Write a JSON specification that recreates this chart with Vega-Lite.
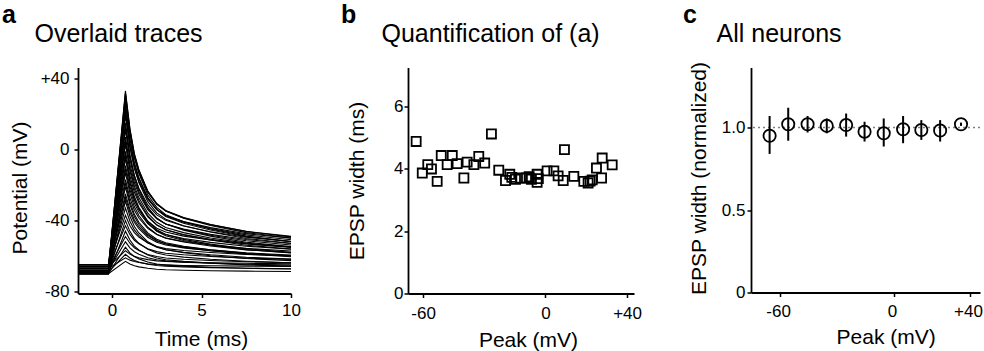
{
"$schema": "https://vega.github.io/schema/vega-lite/v6.json",
"padding": {"left": 2, "top": 2.5, "right": 0, "bottom": 0},
"spacing": 117,
"bounds": "flush",
"config": {
 "view": {"stroke": null},
 "font": "Liberation Sans",
 "axis": {"domainColor": "black", "domainWidth": 1.8, "tickColor": "black", "tickWidth": 1.5, "tickSize": 4, "labelColor": "black", "labelFontSize": 17, "labelFont": "Liberation Sans", "titleFont": "Liberation Sans", "titleFontSize": 21, "titleFontWeight": "normal", "titleColor": "black", "grid": false, "labelFlush": false, "labelOverlap": false},
 "title": {"anchor": "start", "frame": "group", "fontSize": 25, "fontWeight": "bold", "font": "Liberation Sans", "color": "black", "offset": -6.5}
},
"datasets": {
"tr": [
{"k":1,"t":-1.9,"v":-68},{"k":1,"t":-0.2,"v":-68},{"k":1,"t":0.75,"v":33},{"k":1,"t":1,"v":11.8},{"k":1,"t":1.25,"v":-2.4},{"k":1,"t":1.5,"v":-11.4},{"k":1,"t":2,"v":-23.6},{"k":1,"t":2.5,"v":-30.6},{"k":1,"t":3,"v":-34.7},{"k":1,"t":4,"v":-38.7},{"k":1,"t":5.5,"v":-42.8},{"k":1,"t":7.5,"v":-46.8},{"k":1,"t":10,"v":-49.8},
{"k":2,"t":-1.9,"v":-70},{"k":2,"t":-0.2,"v":-70},{"k":2,"t":0.75,"v":31},{"k":2,"t":1,"v":9.8},{"k":2,"t":1.25,"v":-4.4},{"k":2,"t":1.5,"v":-13.4},{"k":2,"t":2,"v":-25.6},{"k":2,"t":2.5,"v":-32.6},{"k":2,"t":3,"v":-36.7},{"k":2,"t":4,"v":-40.7},{"k":2,"t":5.5,"v":-44.8},{"k":2,"t":7.5,"v":-48.8},{"k":2,"t":10,"v":-51.8},
{"k":3,"t":-1.9,"v":-66},{"k":3,"t":-0.2,"v":-66},{"k":3,"t":0.75,"v":29},{"k":3,"t":1,"v":9.1},{"k":3,"t":1.25,"v":-4.3},{"k":3,"t":1.5,"v":-12.8},{"k":3,"t":2,"v":-24.2},{"k":3,"t":2.5,"v":-30.9},{"k":3,"t":3,"v":-34.7},{"k":3,"t":4,"v":-38.5},{"k":3,"t":5.5,"v":-42.3},{"k":3,"t":7.5,"v":-46.1},{"k":3,"t":10,"v":-48.9},
{"k":4,"t":-1.9,"v":-69},{"k":4,"t":-0.2,"v":-69},{"k":4,"t":0.75,"v":26},{"k":4,"t":1,"v":6.1},{"k":4,"t":1.25,"v":-7.3},{"k":4,"t":1.5,"v":-15.8},{"k":4,"t":2,"v":-27.2},{"k":4,"t":2.5,"v":-33.9},{"k":4,"t":3,"v":-37.7},{"k":4,"t":4,"v":-41.5},{"k":4,"t":5.5,"v":-45.3},{"k":4,"t":7.5,"v":-49.1},{"k":4,"t":10,"v":-51.9},
{"k":5,"t":-1.9,"v":-67},{"k":5,"t":-0.2,"v":-67},{"k":5,"t":0.75,"v":23},{"k":5,"t":1,"v":4.1},{"k":5,"t":1.25,"v":-8.5},{"k":5,"t":1.5,"v":-16.6},{"k":5,"t":2,"v":-27.4},{"k":5,"t":2.5,"v":-33.7},{"k":5,"t":3,"v":-37.3},{"k":5,"t":4,"v":-40.9},{"k":5,"t":5.5,"v":-44.5},{"k":5,"t":7.5,"v":-48.1},{"k":5,"t":10,"v":-50.8},
{"k":6,"t":-1.9,"v":-65},{"k":6,"t":-0.2,"v":-65},{"k":6,"t":0.75,"v":19},{"k":6,"t":1,"v":1.4},{"k":6,"t":1.25,"v":-10.4},{"k":6,"t":1.5,"v":-18},{"k":6,"t":2,"v":-28},{"k":6,"t":2.5,"v":-33.9},{"k":6,"t":3,"v":-37.3},{"k":6,"t":4,"v":-40.6},{"k":6,"t":5.5,"v":-44},{"k":6,"t":7.5,"v":-47.4},{"k":6,"t":10,"v":-49.9},
{"k":7,"t":-1.9,"v":-70},{"k":7,"t":-0.2,"v":-70},{"k":7,"t":0.75,"v":15},{"k":7,"t":1,"v":-2.9},{"k":7,"t":1.25,"v":-14.8},{"k":7,"t":1.5,"v":-22.4},{"k":7,"t":2,"v":-32.6},{"k":7,"t":2.5,"v":-38.6},{"k":7,"t":3,"v":-42},{"k":7,"t":4,"v":-45.4},{"k":7,"t":5.5,"v":-48.8},{"k":7,"t":7.5,"v":-52.2},{"k":7,"t":10,"v":-54.7},
{"k":8,"t":-1.9,"v":-68},{"k":8,"t":-0.2,"v":-68},{"k":8,"t":0.75,"v":11},{"k":8,"t":1,"v":-5.6},{"k":8,"t":1.25,"v":-16.7},{"k":8,"t":1.5,"v":-23.8},{"k":8,"t":2,"v":-33.2},{"k":8,"t":2.5,"v":-38.8},{"k":8,"t":3,"v":-41.9},{"k":8,"t":4,"v":-45.1},{"k":8,"t":5.5,"v":-48.3},{"k":8,"t":7.5,"v":-51.4},{"k":8,"t":10,"v":-53.8},
{"k":9,"t":-1.9,"v":-66},{"k":9,"t":-0.2,"v":-66},{"k":9,"t":0.75,"v":7},{"k":9,"t":1,"v":-8.3},{"k":9,"t":1.25,"v":-18.6},{"k":9,"t":1.5,"v":-25.1},{"k":9,"t":2,"v":-33.9},{"k":9,"t":2.5,"v":-39},{"k":9,"t":3,"v":-41.9},{"k":9,"t":4,"v":-44.8},{"k":9,"t":5.5,"v":-47.8},{"k":9,"t":7.5,"v":-50.7},{"k":9,"t":10,"v":-52.9},
{"k":10,"t":-1.9,"v":-69},{"k":10,"t":-0.2,"v":-69},{"k":10,"t":0.75,"v":3},{"k":10,"t":1,"v":-12.1},{"k":10,"t":1.25,"v":-22.2},{"k":10,"t":1.5,"v":-28.7},{"k":10,"t":2,"v":-37.3},{"k":10,"t":2.5,"v":-42.4},{"k":10,"t":3,"v":-45.2},{"k":10,"t":4,"v":-48.1},{"k":10,"t":5.5,"v":-51},{"k":10,"t":7.5,"v":-53.9},{"k":10,"t":10,"v":-56},
{"k":11,"t":-1.9,"v":-67},{"k":11,"t":-0.2,"v":-67},{"k":11,"t":0.75,"v":-1},{"k":11,"t":1,"v":-14.9},{"k":11,"t":1.25,"v":-24.1},{"k":11,"t":1.5,"v":-30},{"k":11,"t":2,"v":-38},{"k":11,"t":2.5,"v":-42.6},{"k":11,"t":3,"v":-45.2},{"k":11,"t":4,"v":-47.9},{"k":11,"t":5.5,"v":-50.5},{"k":11,"t":7.5,"v":-53.1},{"k":11,"t":10,"v":-55.1},
{"k":12,"t":-1.9,"v":-70},{"k":12,"t":-0.2,"v":-70},{"k":12,"t":0.75,"v":-5},{"k":12,"t":1,"v":-18.7},{"k":12,"t":1.25,"v":-27.8},{"k":12,"t":1.5,"v":-33.6},{"k":12,"t":2,"v":-41.4},{"k":12,"t":2.5,"v":-46},{"k":12,"t":3,"v":-48.6},{"k":12,"t":4,"v":-51.2},{"k":12,"t":5.5,"v":-53.8},{"k":12,"t":7.5,"v":-56.4},{"k":12,"t":10,"v":-58.3},
{"k":13,"t":-1.9,"v":-65},{"k":13,"t":-0.2,"v":-65},{"k":13,"t":0.75,"v":-9},{"k":13,"t":1,"v":-20.8},{"k":13,"t":1.25,"v":-28.6},{"k":13,"t":1.5,"v":-33.6},{"k":13,"t":2,"v":-40.4},{"k":13,"t":2.5,"v":-44.3},{"k":13,"t":3,"v":-46.5},{"k":13,"t":4,"v":-48.8},{"k":13,"t":5.5,"v":-51},{"k":13,"t":7.5,"v":-53.2},{"k":13,"t":10,"v":-54.9},
{"k":14,"t":-1.9,"v":-68},{"k":14,"t":-0.2,"v":-68},{"k":14,"t":0.75,"v":-13},{"k":14,"t":1,"v":-24.6},{"k":14,"t":1.25,"v":-32.3},{"k":14,"t":1.5,"v":-37.2},{"k":14,"t":2,"v":-43.8},{"k":14,"t":2.5,"v":-47.7},{"k":14,"t":3,"v":-49.9},{"k":14,"t":4,"v":-52.1},{"k":14,"t":5.5,"v":-54.3},{"k":14,"t":7.5,"v":-56.5},{"k":14,"t":10,"v":-58.1},
{"k":15,"t":-1.9,"v":-66},{"k":15,"t":-0.2,"v":-66},{"k":15,"t":0.75,"v":-17},{"k":15,"t":1,"v":-27.3},{"k":15,"t":1.25,"v":-34.2},{"k":15,"t":1.5,"v":-38.6},{"k":15,"t":2,"v":-44.4},{"k":15,"t":2.5,"v":-47.9},{"k":15,"t":3,"v":-49.8},{"k":15,"t":4,"v":-51.8},{"k":15,"t":5.5,"v":-53.8},{"k":15,"t":7.5,"v":-55.7},{"k":15,"t":10,"v":-57.2},
{"k":16,"t":-1.9,"v":-69},{"k":16,"t":-0.2,"v":-69},{"k":16,"t":0.75,"v":-21},{"k":16,"t":1,"v":-31.1},{"k":16,"t":1.25,"v":-37.8},{"k":16,"t":1.5,"v":-42.1},{"k":16,"t":2,"v":-47.9},{"k":16,"t":2.5,"v":-51.2},{"k":16,"t":3,"v":-53.2},{"k":16,"t":4,"v":-55.1},{"k":16,"t":5.5,"v":-57},{"k":16,"t":7.5,"v":-58.9},{"k":16,"t":10,"v":-60.4},
{"k":17,"t":-1.9,"v":-67},{"k":17,"t":-0.2,"v":-67},{"k":17,"t":0.75,"v":-25},{"k":17,"t":1,"v":-33.8},{"k":17,"t":1.25,"v":-39.7},{"k":17,"t":1.5,"v":-43.5},{"k":17,"t":2,"v":-48.5},{"k":17,"t":2.5,"v":-51.5},{"k":17,"t":3,"v":-53.1},{"k":17,"t":4,"v":-54.8},{"k":17,"t":5.5,"v":-56.5},{"k":17,"t":7.5,"v":-58.2},{"k":17,"t":10,"v":-59.4},
{"k":18,"t":-1.9,"v":-70},{"k":18,"t":-0.2,"v":-70},{"k":18,"t":0.75,"v":-29},{"k":18,"t":1,"v":-37.6},{"k":18,"t":1.25,"v":-43.4},{"k":18,"t":1.5,"v":-47},{"k":18,"t":2,"v":-52},{"k":18,"t":2.5,"v":-54.8},{"k":18,"t":3,"v":-56.5},{"k":18,"t":4,"v":-58.1},{"k":18,"t":5.5,"v":-59.8},{"k":18,"t":7.5,"v":-61.4},{"k":18,"t":10,"v":-62.6},
{"k":19,"t":-1.9,"v":-68},{"k":19,"t":-0.2,"v":-68},{"k":19,"t":0.75,"v":-33},{"k":19,"t":1,"v":-40.4},{"k":19,"t":1.25,"v":-45.3},{"k":19,"t":1.5,"v":-48.4},{"k":19,"t":2,"v":-52.6},{"k":19,"t":2.5,"v":-55.1},{"k":19,"t":3,"v":-56.5},{"k":19,"t":4,"v":-57.9},{"k":19,"t":5.5,"v":-59.3},{"k":19,"t":7.5,"v":-60.7},{"k":19,"t":10,"v":-61.7},
{"k":20,"t":-1.9,"v":-65},{"k":20,"t":-0.2,"v":-65},{"k":20,"t":0.75,"v":-37},{"k":20,"t":1,"v":-42.9},{"k":20,"t":1.25,"v":-46.8},{"k":20,"t":1.5,"v":-49.3},{"k":20,"t":2,"v":-52.7},{"k":20,"t":2.5,"v":-54.6},{"k":20,"t":3,"v":-55.8},{"k":20,"t":4,"v":-56.9},{"k":20,"t":5.5,"v":-58},{"k":20,"t":7.5,"v":-59.1},{"k":20,"t":10,"v":-60},
{"k":21,"t":-1.9,"v":-69},{"k":21,"t":-0.2,"v":-69},{"k":21,"t":0.75,"v":-40},{"k":21,"t":1,"v":-46.1},{"k":21,"t":1.25,"v":-50.2},{"k":21,"t":1.5,"v":-52.8},{"k":21,"t":2,"v":-56.2},{"k":21,"t":2.5,"v":-58.3},{"k":21,"t":3,"v":-59.4},{"k":21,"t":4,"v":-60.6},{"k":21,"t":5.5,"v":-61.8},{"k":21,"t":7.5,"v":-62.9},{"k":21,"t":10,"v":-63.8},
{"k":22,"t":-1.9,"v":-66},{"k":22,"t":-0.2,"v":-66},{"k":22,"t":0.75,"v":-43},{"k":22,"t":1,"v":-47.8},{"k":22,"t":1.25,"v":-51.1},{"k":22,"t":1.5,"v":-53.1},{"k":22,"t":2,"v":-55.9},{"k":22,"t":2.5,"v":-57.5},{"k":22,"t":3,"v":-58.4},{"k":22,"t":4,"v":-59.3},{"k":22,"t":5.5,"v":-60.3},{"k":22,"t":7.5,"v":-61.2},{"k":22,"t":10,"v":-61.9},
{"k":23,"t":-1.9,"v":-70},{"k":23,"t":-0.2,"v":-70},{"k":23,"t":0.75,"v":-46},{"k":23,"t":1,"v":-51},{"k":23,"t":1.25,"v":-54.4},{"k":23,"t":1.5,"v":-56.6},{"k":23,"t":2,"v":-59.4},{"k":23,"t":2.5,"v":-61.1},{"k":23,"t":3,"v":-62.1},{"k":23,"t":4,"v":-63},{"k":23,"t":5.5,"v":-64},{"k":23,"t":7.5,"v":-65},{"k":23,"t":10,"v":-65.7},
{"k":24,"t":-1.9,"v":-67},{"k":24,"t":-0.2,"v":-67},{"k":24,"t":0.75,"v":-49},{"k":24,"t":1,"v":-52.8},{"k":24,"t":1.25,"v":-55.3},{"k":24,"t":1.5,"v":-56.9},{"k":24,"t":2,"v":-59.1},{"k":24,"t":2.5,"v":-60.3},{"k":24,"t":3,"v":-61.1},{"k":24,"t":4,"v":-61.8},{"k":24,"t":5.5,"v":-62.5},{"k":24,"t":7.5,"v":-63.2},{"k":24,"t":10,"v":-63.8},
{"k":25,"t":-1.9,"v":-68},{"k":25,"t":-0.2,"v":-68},{"k":25,"t":0.75,"v":-52},{"k":25,"t":1,"v":-55.4},{"k":25,"t":1.25,"v":-57.6},{"k":25,"t":1.5,"v":-59},{"k":25,"t":2,"v":-61},{"k":25,"t":2.5,"v":-62.1},{"k":25,"t":3,"v":-62.7},{"k":25,"t":4,"v":-63.4},{"k":25,"t":5.5,"v":-64},{"k":25,"t":7.5,"v":-64.6},{"k":25,"t":10,"v":-65.1},
{"k":26,"t":-1.9,"v":-70},{"k":26,"t":-0.2,"v":-70},{"k":26,"t":0.75,"v":-55},{"k":26,"t":1,"v":-58.2},{"k":26,"t":1.25,"v":-60.3},{"k":26,"t":1.5,"v":-61.6},{"k":26,"t":2,"v":-63.4},{"k":26,"t":2.5,"v":-64.5},{"k":26,"t":3,"v":-65.1},{"k":26,"t":4,"v":-65.7},{"k":26,"t":5.5,"v":-66.3},{"k":26,"t":7.5,"v":-66.9},{"k":26,"t":10,"v":-67.3},
{"k":27,"t":-1.9,"v":-66},{"k":27,"t":-0.2,"v":-66},{"k":27,"t":0.75,"v":-57},{"k":27,"t":1,"v":-58.9},{"k":27,"t":1.25,"v":-60.2},{"k":27,"t":1.5,"v":-61},{"k":27,"t":2,"v":-62},{"k":27,"t":2.5,"v":-62.7},{"k":27,"t":3,"v":-63},{"k":27,"t":4,"v":-63.4},{"k":27,"t":5.5,"v":-63.8},{"k":27,"t":7.5,"v":-64.1},{"k":27,"t":10,"v":-64.4},
{"k":28,"t":-1.9,"v":-69},{"k":28,"t":-0.2,"v":-69},{"k":28,"t":0.75,"v":-59},{"k":28,"t":1,"v":-61.1},{"k":28,"t":1.25,"v":-62.5},{"k":28,"t":1.5,"v":-63.4},{"k":28,"t":2,"v":-64.6},{"k":28,"t":2.5,"v":-65.3},{"k":28,"t":3,"v":-65.7},{"k":28,"t":4,"v":-66.1},{"k":28,"t":5.5,"v":-66.5},{"k":28,"t":7.5,"v":-66.9},{"k":28,"t":10,"v":-67.2},
{"k":29,"t":-1.9,"v":-67},{"k":29,"t":-0.2,"v":-67},{"k":29,"t":0.75,"v":-61},{"k":29,"t":1,"v":-62.3},{"k":29,"t":1.25,"v":-63.1},{"k":29,"t":1.5,"v":-63.6},{"k":29,"t":2,"v":-64.4},{"k":29,"t":2.5,"v":-64.8},{"k":29,"t":3,"v":-65},{"k":29,"t":4,"v":-65.3},{"k":29,"t":5.5,"v":-65.5},{"k":29,"t":7.5,"v":-65.7},{"k":29,"t":10,"v":-65.9},
{"k":30,"t":-1.9,"v":-70},{"k":30,"t":-0.2,"v":-70},{"k":30,"t":0.75,"v":-63},{"k":30,"t":1,"v":-64.5},{"k":30,"t":1.25,"v":-65.5},{"k":30,"t":1.5,"v":-66.1},{"k":30,"t":2,"v":-66.9},{"k":30,"t":2.5,"v":-67.4},{"k":30,"t":3,"v":-67.7},{"k":30,"t":4,"v":-68},{"k":30,"t":5.5,"v":-68.3},{"k":30,"t":7.5,"v":-68.5},{"k":30,"t":10,"v":-68.7},
{"k":31,"t":-1.9,"v":-67},{"k":31,"t":-0.2,"v":-67},{"k":31,"t":0.75,"v":32},{"k":31,"t":1,"v":11.2},{"k":31,"t":1.25,"v":-2.6},{"k":31,"t":1.5,"v":-11.6},{"k":31,"t":2,"v":-23.4},{"k":31,"t":2.5,"v":-30.4},{"k":31,"t":3,"v":-34.3},{"k":31,"t":4,"v":-38.3},{"k":31,"t":5.5,"v":-42.3},{"k":31,"t":7.5,"v":-46.2},{"k":31,"t":10,"v":-49.2},
{"k":32,"t":-1.9,"v":-69},{"k":32,"t":-0.2,"v":-69},{"k":32,"t":0.75,"v":21},{"k":32,"t":1,"v":2.1},{"k":32,"t":1.25,"v":-10.5},{"k":32,"t":1.5,"v":-18.6},{"k":32,"t":2,"v":-29.4},{"k":32,"t":2.5,"v":-35.7},{"k":32,"t":3,"v":-39.3},{"k":32,"t":4,"v":-42.9},{"k":32,"t":5.5,"v":-46.5},{"k":32,"t":7.5,"v":-50.1},{"k":32,"t":10,"v":-52.8},
{"k":33,"t":-1.9,"v":-66},{"k":33,"t":-0.2,"v":-66},{"k":33,"t":0.75,"v":13},{"k":33,"t":1,"v":-3.6},{"k":33,"t":1.25,"v":-14.7},{"k":33,"t":1.5,"v":-21.8},{"k":33,"t":2,"v":-31.2},{"k":33,"t":2.5,"v":-36.8},{"k":33,"t":3,"v":-39.9},{"k":33,"t":4,"v":-43.1},{"k":33,"t":5.5,"v":-46.3},{"k":33,"t":7.5,"v":-49.4},{"k":33,"t":10,"v":-51.8},
{"k":34,"t":-1.9,"v":-68},{"k":34,"t":-0.2,"v":-68},{"k":34,"t":0.75,"v":5},{"k":34,"t":1,"v":-10.3},{"k":34,"t":1.25,"v":-20.6},{"k":34,"t":1.5,"v":-27.1},{"k":34,"t":2,"v":-35.9},{"k":34,"t":2.5,"v":-41},{"k":34,"t":3,"v":-43.9},{"k":34,"t":4,"v":-46.8},{"k":34,"t":5.5,"v":-49.8},{"k":34,"t":7.5,"v":-52.7},{"k":34,"t":10,"v":-54.9},
{"k":35,"t":-1.9,"v":-70},{"k":35,"t":-0.2,"v":-70},{"k":35,"t":0.75,"v":-3},{"k":35,"t":1,"v":-17.1},{"k":35,"t":1.25,"v":-26.5},{"k":35,"t":1.5,"v":-32.5},{"k":35,"t":2,"v":-40.5},{"k":35,"t":2.5,"v":-45.2},{"k":35,"t":3,"v":-47.9},{"k":35,"t":4,"v":-50.6},{"k":35,"t":5.5,"v":-53.3},{"k":35,"t":7.5,"v":-55.9},{"k":35,"t":10,"v":-57.9},
{"k":36,"t":-1.9,"v":-66},{"k":36,"t":-0.2,"v":-66},{"k":36,"t":0.75,"v":-11},{"k":36,"t":1,"v":-22.6},{"k":36,"t":1.25,"v":-30.3},{"k":36,"t":1.5,"v":-35.2},{"k":36,"t":2,"v":-41.8},{"k":36,"t":2.5,"v":-45.7},{"k":36,"t":3,"v":-47.9},{"k":36,"t":4,"v":-50.1},{"k":36,"t":5.5,"v":-52.3},{"k":36,"t":7.5,"v":-54.5},{"k":36,"t":10,"v":-56.1},
{"k":37,"t":-1.9,"v":-69},{"k":37,"t":-0.2,"v":-69},{"k":37,"t":0.75,"v":-19},{"k":37,"t":1,"v":-29.5},{"k":37,"t":1.25,"v":-36.5},{"k":37,"t":1.5,"v":-41},{"k":37,"t":2,"v":-47},{"k":37,"t":2.5,"v":-50.5},{"k":37,"t":3,"v":-52.5},{"k":37,"t":4,"v":-54.5},{"k":37,"t":5.5,"v":-56.5},{"k":37,"t":7.5,"v":-58.5},{"k":37,"t":10,"v":-60},
{"k":38,"t":-1.9,"v":-67},{"k":38,"t":-0.2,"v":-67},{"k":38,"t":0.75,"v":-27},{"k":38,"t":1,"v":-35.4},{"k":38,"t":1.25,"v":-41},{"k":38,"t":1.5,"v":-44.6},{"k":38,"t":2,"v":-49.4},{"k":38,"t":2.5,"v":-52.2},{"k":38,"t":3,"v":-53.8},{"k":38,"t":4,"v":-55.4},{"k":38,"t":5.5,"v":-57},{"k":38,"t":7.5,"v":-58.6},{"k":38,"t":10,"v":-59.8}
],
"pts": [
{"peak":-63.4,"w":4.87},{"peak":-60.4,"w":3.86},{"peak":-57.7,"w":4.13},{"peak":-55.9,"w":3.99},{"peak":-53.1,"w":3.59},{"peak":-51.1,"w":4.42},{"peak":-48.2,"w":4.13},{"peak":-45.7,"w":4.42},{"peak":-43.3,"w":4.16},{"peak":-40.0,"w":3.7},{"peak":-38.4,"w":4.21},{"peak":-35.1,"w":4.13},{"peak":-32.7,"w":4.39},{"peak":-29.8,"w":4.18},{"peak":-26.5,"w":5.11},{"peak":-22.9,"w":3.95},{"peak":-19.6,"w":3.62},{"peak":-17.5,"w":3.82},{"peak":-16.5,"w":3.72},{"peak":-14.7,"w":3.66},{"peak":-12.3,"w":3.7},{"peak":-9.3,"w":3.7},{"peak":-8.0,"w":3.74},{"peak":-6.9,"w":3.66},{"peak":-4.1,"w":3.82},{"peak":-4.1,"w":3.56},{"peak":-3.5,"w":3.68},{"peak":0.8,"w":3.93},{"peak":4.1,"w":3.93},{"peak":6.2,"w":3.77},{"peak":8.7,"w":3.62},{"peak":9.3,"w":4.61},{"peak":13.9,"w":3.75},{"peak":18.8,"w":3.59},{"peak":20.9,"w":3.54},{"peak":21.9,"w":3.6},{"peak":22.9,"w":3.64},{"peak":25.0,"w":4.02},{"peak":27.5,"w":3.7},{"peak":27.8,"w":4.34},{"peak":32.7,"w":4.12}
],
"avg": [
{"peak":-65.5,"m":0.95,"lo":0.84,"hi":1.07},{"peak":-55.7,"m":1.02,"lo":0.92,"hi":1.12},{"peak":-45.5,"m":1.02,"lo":0.97,"hi":1.07},{"peak":-35.4,"m":1.01,"lo":0.965,"hi":1.055},{"peak":-25.2,"m":1.015,"lo":0.945,"hi":1.085},{"peak":-15.5,"m":0.975,"lo":0.915,"hi":1.035},{"peak":-5.4,"m":0.965,"lo":0.885,"hi":1.055},{"peak":4.8,"m":0.99,"lo":0.905,"hi":1.07},{"peak":14.4,"m":0.985,"lo":0.925,"hi":1.045},{"peak":24.3,"m":0.982,"lo":0.915,"hi":1.045},{"peak":35.3,"m":1.02,"lo":1.01,"hi":1.03}
]
},
"hconcat": [
{
 "width": 213, "height": 226,
 "title": {"text": "a", "dx": -76},
 "resolve": {"scale": {"x": "independent"}, "axis": {"x": "independent"}},
 "layer": [
  {
   "data": {"name": "tr"},
   "mark": {"type": "line", "color": "black", "strokeWidth": 1.1},
   "encoding": {
    "x": {"field": "t", "type": "quantitative", "scale": {"domain": [-1.9, 10], "nice": false, "zero": false}, "axis": {"values": [0, 5, 10], "title": "Time (ms)", "titleX": 123, "labelPadding": 5, "titlePadding": 10}},
    "y": {"field": "v", "type": "quantitative", "scale": {"domain": [-81.1, 46.2], "nice": false, "zero": false}, "axis": {"values": [-80, -40, 0, 40], "labelExpr": "datum.value > 0 ? '+' + datum.value : '' + datum.value", "title": "Potential (mV)", "titleY": 120, "labelPadding": 5, "titlePadding": 9.5}},
    "detail": {"field": "k", "type": "nominal"}
   }
  },
  {
   "data": {"values": []},
   "mark": {"type": "point", "opacity": 0},
   "encoding": {
    "x": {"field": "t", "type": "quantitative", "scale": {"domain": [-1.9, 10], "nice": false, "zero": false}, "axis": {"orient": "top", "domain": false, "ticks": false, "labels": false, "title": "Overlaid traces", "titleFontSize": 25, "titleX": -44, "titleY": -26.5, "titleAlign": "left", "titleBaseline": "alphabetic", "titleAngle": 0}}
   }
  }
 ]
},
{
 "width": 226, "height": 226,
 "title": {"text": "b", "dx": -67},
 "resolve": {"scale": {"x": "independent"}, "axis": {"x": "independent"}},
 "layer": [
  {
   "data": {"name": "pts"},
   "mark": {"type": "point", "shape": "square", "filled": false, "color": "black", "strokeWidth": 1.8, "size": 82, "opacity": 1},
   "encoding": {
    "x": {"field": "peak", "type": "quantitative", "scale": {"domain": [-67.4, 43.4], "nice": false, "zero": false}, "axis": {"values": [-60, 0, 40], "labelExpr": "datum.value > 0 ? '+' + datum.value : '' + datum.value", "title": "Peak (mV)", "titleX": 120, "labelPadding": 7.5, "titlePadding": 8}},
    "y": {"field": "w", "type": "quantitative", "scale": {"domain": [0, 7.24], "nice": false, "zero": false}, "axis": {"values": [0, 2, 4, 6], "title": "EPSP width (ms)", "titleY": 113, "labelPadding": 1, "titlePadding": 25.8}}
   }
  },
  {
   "data": {"values": []},
   "mark": {"type": "point", "opacity": 0},
   "encoding": {
    "x": {"field": "peak", "type": "quantitative", "scale": {"domain": [-67.4, 43.4], "nice": false, "zero": false}, "axis": {"orient": "top", "domain": false, "ticks": false, "labels": false, "title": "Quantification of (a)", "titleFontSize": 25, "titleX": -27, "titleY": -26.5, "titleAlign": "left", "titleBaseline": "alphabetic", "titleAngle": 0}}
   }
  }
 ]
},
{
 "width": 229, "height": 225,
 "title": {"text": "c", "dx": -68},
 "resolve": {"scale": {"x": "independent"}, "axis": {"x": "independent"}},
 "layer": [
  {
   "layer": [
    {
     "data": {"values": [{"ref": 1}]},
     "mark": {"type": "rule", "color": "#7f7f7f", "strokeDash": [2, 3], "strokeWidth": 1.5},
     "encoding": {"y": {"field": "ref", "type": "quantitative", "scale": {"domain": [0, 1.364], "nice": false, "zero": false}, "axis": {"values": [0, 0.5, 1], "labelExpr": "datum.value == 0 ? '0' : format(datum.value, '.1f')", "title": "EPSP width (normalized)", "titleY": 110.5, "labelPadding": 2, "titlePadding": 11.5}}}
    },
    {
     "data": {"name": "avg"},
     "mark": {"type": "rule", "color": "black", "strokeWidth": 2},
     "encoding": {
      "x": {"field": "peak", "type": "quantitative", "scale": {"domain": [-75.3, 45.3], "nice": false, "zero": false}, "axis": {"values": [-60, 0, 40], "labelExpr": "datum.value > 0 ? '+' + datum.value : '' + datum.value", "title": "Peak (mV)", "titleX": 134.7, "labelPadding": 7, "titlePadding": 6.5, "labelOffset": -2}},
      "y": {"field": "lo", "type": "quantitative", "scale": {"domain": [0, 1.364], "nice": false, "zero": false}, "axis": {"values": [0, 0.5, 1], "labelExpr": "datum.value == 0 ? '0' : format(datum.value, '.1f')", "title": "EPSP width (normalized)", "titleY": 110.5, "labelPadding": 2, "titlePadding": 11.5}},
      "y2": {"field": "hi"}
     }
    },
    {
     "data": {"name": "avg"},
     "mark": {"type": "point", "shape": "circle", "filled": false, "color": "black", "strokeWidth": 1.8, "size": 150, "opacity": 1},
     "encoding": {
      "x": {"field": "peak", "type": "quantitative", "scale": {"domain": [-75.3, 45.3], "nice": false, "zero": false}, "axis": {"values": [-60, 0, 40], "labelExpr": "datum.value > 0 ? '+' + datum.value : '' + datum.value", "title": "Peak (mV)", "titleX": 134.7, "labelPadding": 7, "titlePadding": 6.5, "labelOffset": -2}},
      "y": {"field": "m", "type": "quantitative", "scale": {"domain": [0, 1.364], "nice": false, "zero": false}, "axis": {"values": [0, 0.5, 1], "labelExpr": "datum.value == 0 ? '0' : format(datum.value, '.1f')", "title": "EPSP width (normalized)", "titleY": 110.5, "labelPadding": 2, "titlePadding": 11.5}}
     }
    }
   ]
  },
  {
   "data": {"values": []},
   "mark": {"type": "point", "opacity": 0},
   "encoding": {
    "x": {"field": "peak", "type": "quantitative", "scale": {"domain": [-75.3, 45.3], "nice": false, "zero": false}, "axis": {"orient": "top", "domain": false, "ticks": false, "labels": false, "title": "All neurons", "titleFontSize": 25, "titleX": -35, "titleY": -26.5, "titleAlign": "left", "titleBaseline": "alphabetic", "titleAngle": 0}}
   }
  }
 ]
}
]
}
